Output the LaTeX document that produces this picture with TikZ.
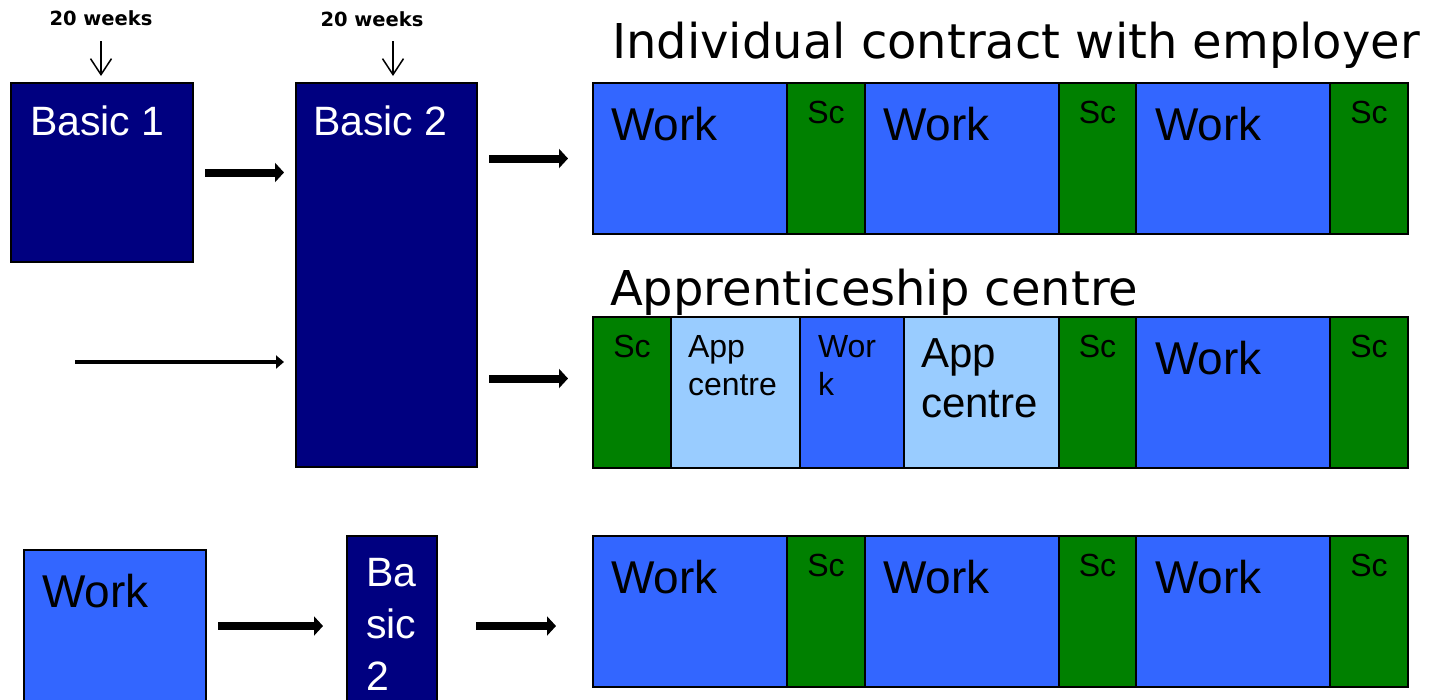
\documentclass[tikz,border=0pt]{standalone}
\usepackage{fontspec}
\setmainfont{Liberation Sans}
\newfontfamily\headfont{DejaVu Sans}
\usetikzlibrary{arrows.meta}
\definecolor{navy}{HTML}{000080}
\definecolor{workblue}{HTML}{3366FF}
\definecolor{schoolgreen}{HTML}{008000}
\definecolor{centreblue}{HTML}{99CCFF}
\begin{document}
\begin{tikzpicture}[x=1pt,y=-1pt,
  box/.style={draw=black, line width=1.8pt, anchor=north west, inner sep=0pt, outer sep=0pt},
  txt/.style={anchor=base west, inner sep=0pt, outer sep=0pt, text=black},
  bigtxt/.style={txt, font=\fontsize{46}{55}\selectfont},
  sctxt/.style={txt, anchor=base, font=\fontsize{32}{38}\selectfont},
  smalltxt/.style={txt, align=left, font=\fontsize{32}{38}\selectfont},
  basictxt/.style={txt, text=white, font=\fontsize{41}{52}\selectfont},
  headtxt/.style={txt, font=\headfont\fontsize{48}{58}\selectfont},
  weeks/.style={anchor=base, inner sep=0pt, font=\headfont\bfseries\fontsize{19.5}{23}\selectfont},
  fat/.style={line width=8pt, -{Triangle[length=9pt,width=19pt]}},
  slim/.style={line width=4.5pt, -{Triangle[length=8pt,width=13pt]}},
  tick/.style={line width=1.5pt, -{Straight Barb[length=16pt,width=21pt]}}
]
\useasboundingbox (0,0) rectangle (1431,699);
\clip (0,0) rectangle (1431,699);

% basic courses
\node[box, fill=navy, minimum width=182, minimum height=179] (b1) at (11,83) {};
\node[box, fill=navy, minimum width=181, minimum height=384] (b2) at (296,83) {};
\node[basictxt] (b1t) at (30,135) {Basic 1};
\node[basictxt] (b2t) at (313,135) {Basic 2};

% duration marks
\node[weeks] (wk1) at (101,25) {20 weeks};
\node[weeks] (wk2) at (372,26) {20 weeks};
\coordinate (d1) at (101,41);
\coordinate (d2) at (393,41);
\draw[tick, shorten >=7pt] (d1) -- (d1 |- b1.north);
\draw[tick, shorten >=7pt] (d2) -- (d2 |- b2.north);

% headings
\node[headtxt] (h1) at (612,58) {Individual contract with employer};
\node[headtxt] (h2) at (610,305) {Apprenticeship centre};

% timelines: work and school blocks
\foreach \r/\t in {a/83, c/536} {
  \foreach \i/\l/\w/\f in {1/593/194/workblue, 2/787/78/schoolgreen, 3/865/194/workblue,
                           4/1059/77/schoolgreen, 5/1136/194/workblue, 6/1330/78/schoolgreen}
    \node[box, fill=\f, minimum width=\w, minimum height=151] (r\r\i) at (\l,\t) {};
}
\foreach \i/\l/\w/\f in {1/593/78/schoolgreen, 2/671/129/centreblue, 3/800/104/workblue,
                         4/904/155/centreblue, 5/1059/77/schoolgreen, 6/1136/194/workblue,
                         7/1330/78/schoolgreen}
  \node[box, fill=\f, minimum width=\w, minimum height=151] (rb\i) at (\l,317) {};

% row 1 labels
\node[bigtxt] (ta1) at (611,140) {Work};
\node[sctxt]  (ta2) at (826,123) {Sc};
\node[bigtxt] (ta3) at (883,140) {Work};
\node[sctxt]  (ta4) at (1097.5,123) {Sc};
\node[bigtxt] (ta5) at (1155,140) {Work};
\node[sctxt]  (ta6) at (1369,123) {Sc};

% row 2 labels (multi-line labels sit on their last baseline)
\node[sctxt]  (tb1) at (632,357) {Sc};
\node[smalltxt] (tb2) at (688,395) {App\\centre};
\node[smalltxt] (tb3) at (818,395) {Wor\\k};
\node[txt, align=left, font=\fontsize{42}{50}\selectfont] (tb4) at (921,417) {App\\centre};
\node[sctxt]  (tb5) at (1097.5,357) {Sc};
\node[bigtxt] (tb6) at (1155,374) {Work};
\node[sctxt]  (tb7) at (1369,357) {Sc};

% row 3 labels
\node[bigtxt] (tc1) at (611,593) {Work};
\node[sctxt]  (tc2) at (826,576) {Sc};
\node[bigtxt] (tc3) at (883,593) {Work};
\node[sctxt]  (tc4) at (1097.5,576) {Sc};
\node[bigtxt] (tc5) at (1155,593) {Work};
\node[sctxt]  (tc6) at (1369,576) {Sc};

% work first, then basic 2
\node[box, fill=workblue, minimum width=182, minimum height=200] (wk) at (24,550) {};
\node[box, fill=navy, minimum width=90, minimum height=200] (b2s) at (347,536) {};
\node[bigtxt] (wkt) at (42,607) {Work};
\node[basictxt, align=left] (b2st) at (366,690) {Ba\\sic\\2};

% flow arrows
\draw[fat, shorten <=12pt, shorten >=12pt] (b1.east) -- (b1.east -| b2.west);
\draw[fat, shorten <=12pt, shorten >=25pt] (b2.east |- ra1.west) -- (ra1.west);
\coordinate (in2) at ([yshift=14pt]rb1.west);
\draw[fat, shorten <=12pt, shorten >=25pt] (b2.east |- in2) -- (in2);
\coordinate (src) at (75,362);
\draw[slim, shorten >=12pt] (src) -- (src -| b2.west);
\coordinate (lane) at (0,626);
\draw[fat, shorten <=12pt, shorten >=24pt] (wk.east |- lane) -- (b2s.west |- lane);
\draw[fat, shorten <=39pt, shorten >=37pt] (b2s.east |- lane) -- (rc1.west |- lane);
\end{tikzpicture}
\end{document}
